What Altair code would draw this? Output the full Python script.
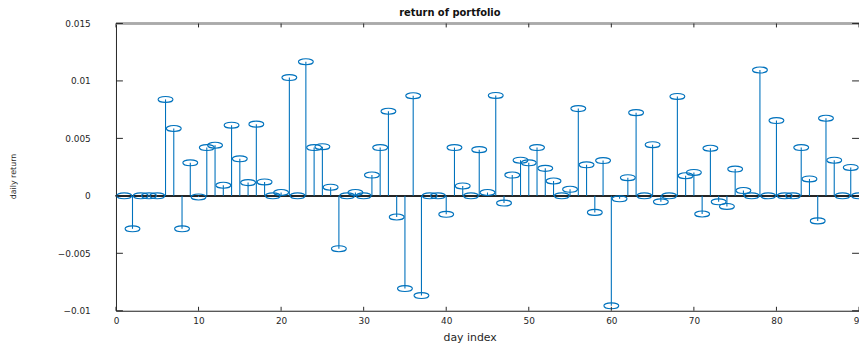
import altair as alt
import pandas as pd

days = list(range(1, 91))
returns = [
    0.0, -0.00287, 0.0, 0.0, 0.0, 0.00839, 0.00586, -0.00287, 0.00287, -0.0001,
    0.0042, 0.0044, 0.00092, 0.00615, 0.00322, 0.00115, 0.00624, 0.00121, 0.0, 0.00029,
    0.01029, 0.0, 0.01167, 0.0042, 0.00428, 0.00075, -0.0046, 0.0, 0.00029, 0.0,
    0.00181, 0.0042, 0.00736, -0.00184, -0.00807, 0.00871, -0.00868, 0.0, 0.0, -0.00161,
    0.0042, 0.00086, 0.0, 0.00402, 0.00029, 0.00874, -0.00063, 0.00181, 0.0031, 0.00287,
    0.0042, 0.00239, 0.00129, 0.0, 0.00057, 0.00759, 0.0027, -0.00144, 0.00307, -0.00957,
    -0.00026, 0.00158, 0.00724, 0.0, 0.00445, -0.00052, 0.0, 0.00865, 0.00175, 0.00204,
    -0.00158, 0.00414, -0.00052, -0.00092, 0.00233, 0.00046, 0.0, 0.01095, 0.0, 0.00655,
    0.0, 0.0, 0.0042, 0.00147, -0.00218, 0.00675, 0.0031, 0.0, 0.00247, 0.0,
]
x_ticks = [0, 10, 20, 30, 40, 50, 60, 70, 80, 90]
y_ticks = [-0.01, -0.005, 0.0, 0.005, 0.01, 0.015]

W, H = 750, 290
BLUE = "#0072BD"
AX = "#262626"
FONT = "DejaVu Sans"

df = pd.DataFrame({"day": days, "ret": returns})
df["zero"] = 0.0
xt = pd.DataFrame({"t": x_ticks})
yt = pd.DataFrame({"t": y_ticks})

xscale = alt.Scale(domain=[0, 90], nice=False, zero=False)
yscale = alt.Scale(domain=[-0.01, 0.015], nice=False, zero=False)

xaxis = alt.Axis(values=x_ticks, ticks=False, grid=False, title="day index",
                 labelFont=FONT, labelFontSize=9, labelColor=AX, labelPadding=6,
                 titleFont=FONT, titleFontSize=11, titleFontWeight="normal", titleColor=AX,
                 titlePadding=6, titleX=357, domainColor=AX, labelFlush=False)
yaxis = alt.Axis(values=y_ticks, ticks=False, grid=False, title="daily return",
                 labelFont=FONT, labelFontSize=9, labelColor=AX, labelPadding=26,
                 titleFont=FONT, titleFontSize=8, titleFontWeight="normal", titleColor=AX,
                 titlePadding=40, titleY=154, domainColor=AX, format="~g", labelFlush=False)

base = alt.Chart(df)

stems = base.mark_rule(color=BLUE, strokeWidth=1.1).encode(
    x=alt.X("day:Q", scale=xscale, axis=xaxis),
    y=alt.Y("ret:Q", scale=yscale, axis=yaxis),
    y2="zero:Q",
)

baseline = base.mark_rule(color=AX, strokeWidth=1).encode(
    y=alt.Y("zero:Q", scale=yscale), x=alt.value(0), x2=alt.value(W)
)

ellipse = "M -1 0 A 1 0.4 0 1 0 1 0 A 1 0.4 0 1 0 -1 0 Z"
points = base.mark_point(shape=ellipse, size=225, filled=False, color=BLUE,
                         strokeWidth=1.1, opacity=1).encode(
    x=alt.X("day:Q", scale=xscale),
    y=alt.Y("ret:Q", scale=yscale),
)

top_line = alt.Chart(xt).mark_rule(color="#aaaaaa", strokeWidth=1.5).encode(
    y=alt.value(0), x=alt.value(0), x2=alt.value(W)
)
xt_bottom = alt.Chart(xt).mark_rule(color=AX).encode(
    x=alt.X("t:Q", scale=xscale), y=alt.value(H), y2=alt.value(H - 4))
xt_top = alt.Chart(xt).mark_rule(color=AX).encode(
    x=alt.X("t:Q", scale=xscale), y=alt.value(0), y2=alt.value(4))
yt_left = alt.Chart(yt).mark_rule(color=AX).encode(
    y=alt.Y("t:Q", scale=yscale), x=alt.value(0), x2=alt.value(7))
yt_right = alt.Chart(yt).mark_rule(color=AX).encode(
    y=alt.Y("t:Q", scale=yscale), x=alt.value(W - 7), x2=alt.value(W))

chart = alt.layer(baseline, stems, points, top_line, xt_bottom, xt_top, yt_left, yt_right).properties(
    width=W, height=H,
    title=alt.TitleParams("return of portfolio", font=FONT, fontSize=10, fontWeight="bold",
                          color="#111111", offset=2, dx=-38),
    autosize=alt.AutoSizeParams(type="none"),
    padding={"left": 109, "top": 14, "right": 0, "bottom": 37},
).configure_view(stroke=None).configure(background="white")

chart.save("out.html", embed_options={"renderer": "svg", "actions": False})
